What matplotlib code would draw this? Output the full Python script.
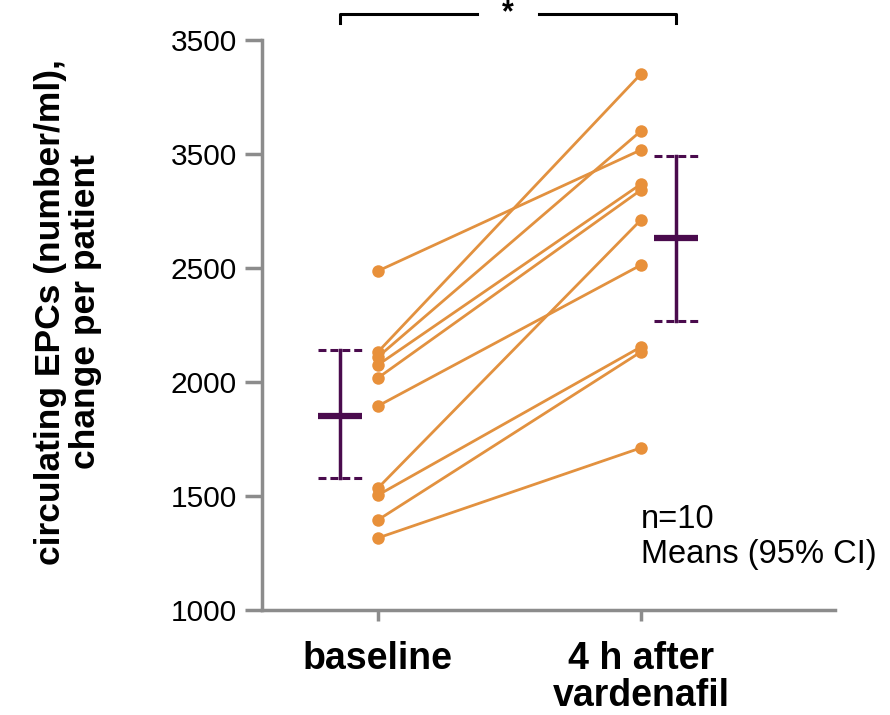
import numpy as np
import matplotlib
matplotlib.use("Agg")
import matplotlib.pyplot as plt

plt.rcParams['font.family'] = ['Liberation Sans', 'DejaVu Sans']

# values per patient (number/ml)
baseline = [2487, 2132, 2110, 2075, 2018, 1895, 1535, 1504, 1395, 1316]
after = [3018, 3351, 3101, 2868, 2842, 2513, 2711, 2154, 2132, 1711]

# means with 95% CI
means = [1851, 2632]
ci_low = [1579, 2268]
ci_high = [2140, 2991]

categories = ["baseline", "4 h after\nvardenafil"]
yticks = [1000, 1500, 2000, 2500, 3000, 3500]
ytick_labels = ["1000", "1500", "2000", "2500", "3500", "3500"]

orange = "#E8903A"
line_col = "#E2913F"
purple = "#4A0B4D"
grey = "#8C8C8C"

fig = plt.figure(figsize=(8.9, 7.15), dpi=100)
ax = fig.add_axes([262 / 890, 1 - 610 / 715, (835 - 262) / 890, (610 - 40) / 715])

for b, a in zip(baseline, after):
    ax.plot([1, 2], [b, a], color=line_col, lw=2, zorder=3)
    ax.plot([1, 2], [b, a], ls="none", marker="o", ms=9, color=orange,
            markeredgewidth=0, zorder=3)

# means and CI
xs = [0.856, 2.133]
hw = 0.084
for x, m, lo, hi in zip(xs, means, ci_low, ci_high):
    ax.plot([x, x], [lo, hi], color=purple, lw=2.5, zorder=4)
    ax.plot([x - hw, x + hw], [m, m], color=purple, lw=4.5, zorder=4,
            solid_capstyle="butt")
    for c in (lo, hi):
        ax.plot([x - hw, x + hw], [c, c], color=purple, lw=2.2, zorder=4,
                dashes=(2.6, 1.3))

# significance bracket
kw = dict(color="black", lw=2.2, clip_on=False)
ax.plot([0.856, 0.856, 1.376], [3573, 3612, 3612], **kw)
ax.plot([1.612, 2.133, 2.133], [3612, 3612, 3573], **kw)
ax.text(1.494, 3616, "*", ha="center", va="center", fontsize=22,
        fontweight="bold", clip_on=False)

ax.set_xlim(0.559, 2.738)
ax.set_ylim(1000, 3500)
ax.set_xticks([1, 2])
ax.set_xticklabels(categories, fontsize=27, fontweight="bold", linespacing=1.05)
ax.set_yticks(yticks)
ax.set_yticklabels(ytick_labels, fontsize=21.5)

for s in ("top", "right"):
    ax.spines[s].set_visible(False)
for s in ("left", "bottom"):
    ax.spines[s].set_color(grey)
    ax.spines[s].set_linewidth(2.5)
ax.tick_params(axis="both", color=grey, width=2.5, length=12)
ax.tick_params(axis="y", pad=6)
ax.tick_params(axis="x", length=8, pad=14)

ax.text(2.0, 1465, "n=10\nMeans (95% CI)", fontsize=23.5, ha="left", va="top",
        linespacing=1.15)

fig.text(68 / 890, 1 - 312 / 715,
         "circulating EPCs (number/ml),\nchange per patient",
         rotation=90, ha="center", va="center", fontsize=25.5,
         fontweight="bold", multialignment="center", linespacing=1.1)

fig.savefig("out.png", dpi=100)
